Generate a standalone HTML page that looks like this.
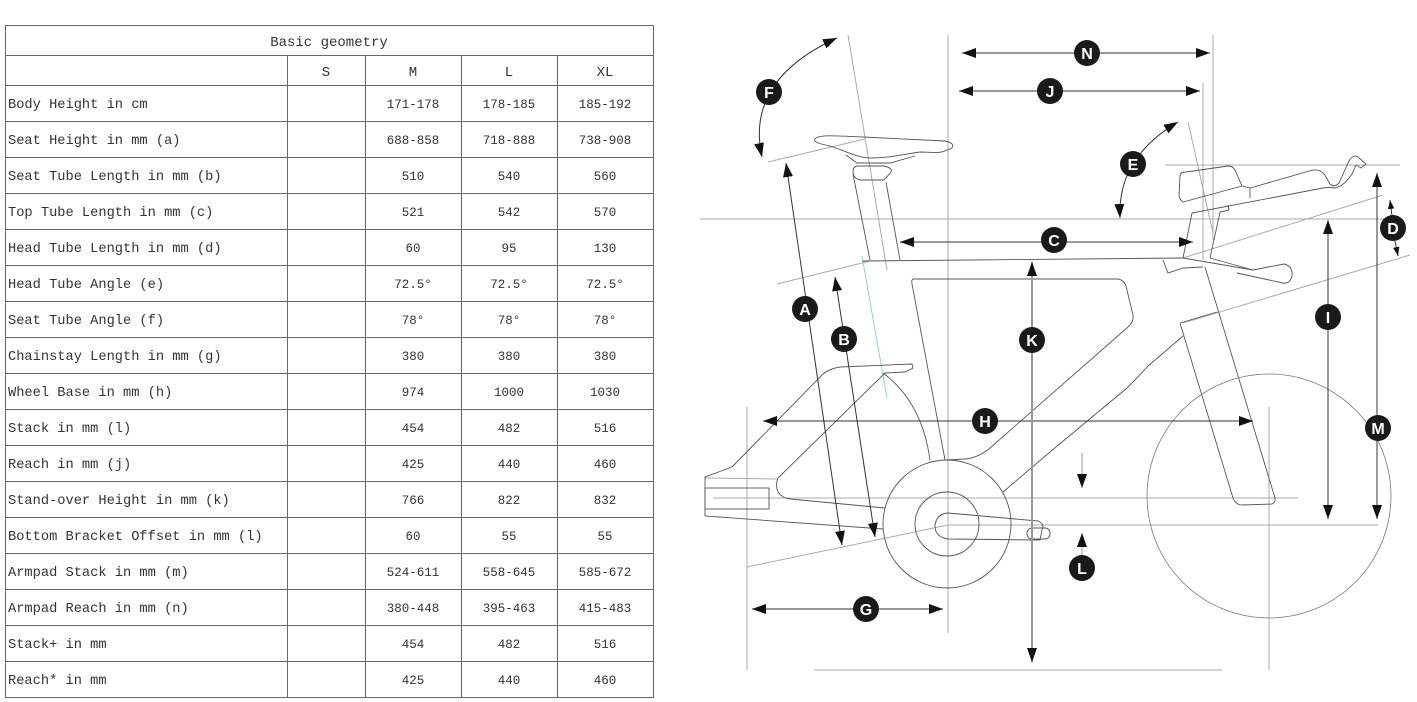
<!DOCTYPE html>
<html><head><meta charset="utf-8"><style>
html,body{margin:0;padding:0;background:#fff;}
svg{display:block;}
.tl{font-family:"Liberation Mono",monospace;font-size:13.7px;fill:#333;}
.tn{font-family:"Liberation Mono",monospace;font-size:12.5px;fill:#333;text-anchor:middle;}
.th{font-family:"Liberation Mono",monospace;font-size:14px;fill:#333;text-anchor:middle;}
.ref{stroke:#aaa;stroke-width:1;fill:none;}
.out{stroke:#555;stroke-width:0.9;fill:none;}
.arr{stroke:#333;stroke-width:1;fill:none;}
.bt{font-family:"Liberation Sans",sans-serif;font-weight:bold;font-size:16px;fill:#fff;text-anchor:middle;}
</style></head><body>
<svg width="1417" height="702" viewBox="0 0 1417 702" xmlns="http://www.w3.org/2000/svg">
<defs>
<marker id="ah" viewBox="0 0 14 10" refX="14" refY="5" markerWidth="14" markerHeight="10" markerUnits="userSpaceOnUse" orient="auto-start-reverse"><path d="M0,0 L14,5 L0,10 z" fill="#111"/></marker>
<marker id="as" viewBox="0 0 14 10" refX="14" refY="5" markerWidth="9" markerHeight="7" markerUnits="userSpaceOnUse" orient="auto-start-reverse"><path d="M0,0 L14,5 L0,10 z" fill="#111"/></marker>
</defs>
<rect width="1417" height="702" fill="#fff"/>

<!-- TABLE -->
<g stroke="#666" stroke-width="1" fill="none" shape-rendering="crispEdges">
<rect x="5.5" y="25.5" width="648" height="672"/>
<line x1="5" y1="55.5" x2="653" y2="55.5"/>
<line x1="5" y1="85.5" x2="653" y2="85.5"/>
<line x1="5" y1="121.5" x2="653" y2="121.5"/>
<line x1="5" y1="157.5" x2="653" y2="157.5"/>
<line x1="5" y1="193.5" x2="653" y2="193.5"/>
<line x1="5" y1="229.5" x2="653" y2="229.5"/>
<line x1="5" y1="265.5" x2="653" y2="265.5"/>
<line x1="5" y1="301.5" x2="653" y2="301.5"/>
<line x1="5" y1="337.5" x2="653" y2="337.5"/>
<line x1="5" y1="373.5" x2="653" y2="373.5"/>
<line x1="5" y1="409.5" x2="653" y2="409.5"/>
<line x1="5" y1="445.5" x2="653" y2="445.5"/>
<line x1="5" y1="481.5" x2="653" y2="481.5"/>
<line x1="5" y1="517.5" x2="653" y2="517.5"/>
<line x1="5" y1="553.5" x2="653" y2="553.5"/>
<line x1="5" y1="589.5" x2="653" y2="589.5"/>
<line x1="5" y1="625.5" x2="653" y2="625.5"/>
<line x1="5" y1="661.5" x2="653" y2="661.5"/>
<line x1="287.5" y1="55" x2="287.5" y2="697"/>
<line x1="365.5" y1="55" x2="365.5" y2="697"/>
<line x1="461.5" y1="55" x2="461.5" y2="697"/>
<line x1="557.5" y1="55" x2="557.5" y2="697"/>
</g>
<text class="th" x="329" y="46">Basic geometry</text>
<text class="th" x="326" y="76">S</text>
<text class="th" x="413" y="76">M</text>
<text class="th" x="509" y="76">L</text>
<text class="th" x="605" y="76">XL</text>

<g>
<text class="tl" x="8" y="108">Body Height in cm</text>
<text class="tn" x="413" y="108">171-178</text><text class="tn" x="509" y="108">178-185</text><text class="tn" x="605" y="108">185-192</text>
<text class="tl" x="8" y="144">Seat Height in mm (a)</text>
<text class="tn" x="413" y="144">688-858</text><text class="tn" x="509" y="144">718-888</text><text class="tn" x="605" y="144">738-908</text>
<text class="tl" x="8" y="180">Seat Tube Length in mm (b)</text>
<text class="tn" x="413" y="180">510</text><text class="tn" x="509" y="180">540</text><text class="tn" x="605" y="180">560</text>
<text class="tl" x="8" y="216">Top Tube Length in mm (c)</text>
<text class="tn" x="413" y="216">521</text><text class="tn" x="509" y="216">542</text><text class="tn" x="605" y="216">570</text>
<text class="tl" x="8" y="252">Head Tube Length in mm (d)</text>
<text class="tn" x="413" y="252">60</text><text class="tn" x="509" y="252">95</text><text class="tn" x="605" y="252">130</text>
<text class="tl" x="8" y="288">Head Tube Angle (e)</text>
<text class="tn" x="413" y="288">72.5°</text><text class="tn" x="509" y="288">72.5°</text><text class="tn" x="605" y="288">72.5°</text>
<text class="tl" x="8" y="324">Seat Tube Angle (f)</text>
<text class="tn" x="413" y="324">78°</text><text class="tn" x="509" y="324">78°</text><text class="tn" x="605" y="324">78°</text>
<text class="tl" x="8" y="360">Chainstay Length in mm (g)</text>
<text class="tn" x="413" y="360">380</text><text class="tn" x="509" y="360">380</text><text class="tn" x="605" y="360">380</text>
<text class="tl" x="8" y="396">Wheel Base in mm (h)</text>
<text class="tn" x="413" y="396">974</text><text class="tn" x="509" y="396">1000</text><text class="tn" x="605" y="396">1030</text>
<text class="tl" x="8" y="432">Stack in mm (l)</text>
<text class="tn" x="413" y="432">454</text><text class="tn" x="509" y="432">482</text><text class="tn" x="605" y="432">516</text>
<text class="tl" x="8" y="468">Reach in mm (j)</text>
<text class="tn" x="413" y="468">425</text><text class="tn" x="509" y="468">440</text><text class="tn" x="605" y="468">460</text>
<text class="tl" x="8" y="504">Stand-over Height in mm (k)</text>
<text class="tn" x="413" y="504">766</text><text class="tn" x="509" y="504">822</text><text class="tn" x="605" y="504">832</text>
<text class="tl" x="8" y="540">Bottom Bracket Offset in mm (l)</text>
<text class="tn" x="413" y="540">60</text><text class="tn" x="509" y="540">55</text><text class="tn" x="605" y="540">55</text>
<text class="tl" x="8" y="576">Armpad Stack in mm (m)</text>
<text class="tn" x="413" y="576">524-611</text><text class="tn" x="509" y="576">558-645</text><text class="tn" x="605" y="576">585-672</text>
<text class="tl" x="8" y="612">Armpad Reach in mm (n)</text>
<text class="tn" x="413" y="612">380-448</text><text class="tn" x="509" y="612">395-463</text><text class="tn" x="605" y="612">415-483</text>
<text class="tl" x="8" y="648">Stack+ in mm</text>
<text class="tn" x="413" y="648">454</text><text class="tn" x="509" y="648">482</text><text class="tn" x="605" y="648">516</text>
<text class="tl" x="8" y="684">Reach* in mm</text>
<text class="tn" x="413" y="684">425</text><text class="tn" x="509" y="684">440</text><text class="tn" x="605" y="684">460</text>
</g>

<!-- DIAGRAM reference lines -->
<g class="ref">
<line x1="948" y1="35" x2="948" y2="633"/>
<line x1="848" y1="35" x2="887" y2="270"/>
<line x1="1213" y1="35" x2="1213" y2="240"/>
<line x1="1203" y1="83" x2="1203" y2="260"/>
<line x1="1188" y1="122" x2="1213" y2="233"/>
<line x1="700" y1="219" x2="1390" y2="219"/>
<line x1="1165" y1="165" x2="1400" y2="165"/>
<line x1="768" y1="162" x2="865" y2="139"/>
<line x1="777" y1="284" x2="870" y2="261"/>
<line x1="1183" y1="258" x2="1383" y2="195"/>
<line x1="1183" y1="323" x2="1410" y2="255"/>
<line x1="713" y1="498" x2="1298" y2="498"/>
<line x1="948" y1="525" x2="1378" y2="525"/>
<line x1="747" y1="407" x2="747" y2="670"/>
<line x1="1269" y1="407" x2="1269" y2="670"/>
<line x1="814" y1="670" x2="1222" y2="670"/>
<line x1="747" y1="567" x2="948" y2="525"/>
<line x1="705" y1="478" x2="777" y2="479"/>
</g>
<line x1="862" y1="256" x2="887" y2="398" stroke="#8fd3d8" stroke-width="1"/>

<!-- Frame outlines -->
<g class="out">
<path d="M815,139 C818,134 840,136 863,137 L945,141 C955,143 955,148 947,150 C940,154 932,152 920,152 C905,154 890,158 870,158 C855,157 843,150 830,146 C820,144 813,142 815,139 Z"/>
<path d="M846,155 L857,163 L890,163 L915,156"/>
<path d="M858,166 L884,166 Q893,168 891,172 L884,180 L860,180 Q853,178 853,172 Q853,166 858,166 Z"/>
<line x1="853" y1="174" x2="870" y2="260"/>
<line x1="886" y1="182" x2="900" y2="260"/>
<line x1="862" y1="261" x2="1183" y2="258"/>
<path d="M914,279 L1118,279 Q1124,280 1126,286 L1133,315 Q1134,322 1128,327 L990,448 Q978,458 965,459 L945,460 L912,284 Q911,279 914,279 Z"/>
<path d="M1003,492 L1050,452 L1127,388 Q1140,375 1147,367 L1183,336"/>
<path d="M883,373 Q922,402 930,460"/>
<path d="M732,467 L822,375 Q828,369 840,367 L912,364 L913,368 L905,372 L885,373 L778,478 Q775,485 778,492 Q782,498 790,499 L885,508"/>
<path d="M732,467 L705,477 L705,516 L883,529"/>
<rect x="705" y="488" width="64" height="21"/>
<circle cx="947" cy="524" r="64"/>
<circle cx="947" cy="524" r="32"/>
<path d="M948,513 L1038,521 Q1045,524 1042,530 L1040,540 L948,539 Q935,537 935,526 Q936,514 948,513 Z"/>
<rect x="1027" y="528" width="23" height="11" rx="5"/>
<path d="M1180,323 L1217,312"/>
<path d="M1180,323 L1233,498 Q1236,505 1242,505 L1272,504 Q1276,502 1275,498 L1205,267"/>
<circle cx="1269" cy="496" r="122" stroke="#777" stroke-width="0.8"/>
<path d="M1192,213 L1183,258"/>
<path d="M1228,205 L1229,210 L1220,212 L1210,258"/>
<path d="M1163,260 L1168,273 L1183,268 L1203,267"/>
<path d="M1183,258 L1253,270 L1284,264 Q1293,266 1292,276 Q1290,284 1283,283 L1237,273"/>
<path d="M1210,258 L1253,270"/>
<path d="M1180,176 Q1180,172 1186,172 L1228,166 Q1233,166 1235,170 L1242,186 L1183,202 Q1180,200 1179,196 Z"/>
<path d="M1242,186 L1250,188 L1250,198"/>
<path d="M1250,188 L1313,170 Q1322,169 1326,177 L1330,184 Q1334,188 1339,183 L1349,161 Q1353,154 1358,157 L1366,164 L1361,168 L1356,165 L1352,174 Q1344,186 1335,188 Q1328,187 1323,188 L1192,213"/>
</g>

<!-- Arrows -->
<g class="arr">
<line x1="962" y1="53" x2="1210" y2="53" marker-start="url(#ah)" marker-end="url(#ah)"/>
<line x1="959" y1="91" x2="1200" y2="91" marker-start="url(#ah)" marker-end="url(#ah)"/>
<line x1="900" y1="242" x2="1193" y2="242" marker-start="url(#ah)" marker-end="url(#ah)"/>
<line x1="763" y1="421" x2="1253" y2="421" marker-start="url(#ah)" marker-end="url(#ah)"/>
<line x1="752" y1="609" x2="943" y2="609" marker-start="url(#ah)" marker-end="url(#ah)"/>
<line x1="786" y1="163" x2="842" y2="545" marker-start="url(#ah)" marker-end="url(#ah)"/>
<line x1="835" y1="277" x2="875" y2="537" marker-start="url(#ah)" marker-end="url(#ah)"/>
<line x1="1328" y1="220" x2="1328" y2="519" marker-start="url(#ah)" marker-end="url(#ah)"/>
<line x1="1377" y1="173" x2="1377" y2="519" marker-start="url(#ah)" marker-end="url(#ah)"/>
<path d="M762,157 Q745,80 837,38" marker-start="url(#ah)" marker-end="url(#ah)"/>
<path d="M1120,218 Q1117,158 1178,122" marker-start="url(#ah)" marker-end="url(#ah)"/>
<line x1="1392" y1="216" x2="1390" y2="200" marker-end="url(#as)"/>
<line x1="1395" y1="241" x2="1398" y2="256" marker-end="url(#as)"/>
<line x1="1082" y1="453" x2="1082" y2="488" stroke="#999" marker-end="url(#ah)"/>
<line x1="1082" y1="555" x2="1082" y2="533" stroke="#999" marker-end="url(#ah)"/>
</g>
<line x1="1032" y1="262" x2="1032" y2="662" stroke="#999" stroke-width="2" marker-start="url(#ah)" marker-end="url(#ah)"/>

<!-- Badges -->
<g>
<circle cx="769" cy="92" r="13" fill="#1a1a1a"/><text class="bt" x="769" y="98">F</text>
<circle cx="1087" cy="53" r="13" fill="#1a1a1a"/><text class="bt" x="1087" y="59">N</text>
<circle cx="1050" cy="91" r="13" fill="#1a1a1a"/><text class="bt" x="1050" y="97">J</text>
<circle cx="1133" cy="164" r="13" fill="#1a1a1a"/><text class="bt" x="1133" y="170">E</text>
<circle cx="1054" cy="240" r="13" fill="#1a1a1a"/><text class="bt" x="1054" y="246">C</text>
<circle cx="1393" cy="228" r="13" fill="#1a1a1a"/><text class="bt" x="1393" y="234">D</text>
<circle cx="805" cy="309" r="13" fill="#1a1a1a"/><text class="bt" x="805" y="315">A</text>
<circle cx="844" cy="339" r="13" fill="#1a1a1a"/><text class="bt" x="844" y="345">B</text>
<circle cx="1032" cy="340" r="13" fill="#1a1a1a"/><text class="bt" x="1032" y="346">K</text>
<circle cx="1328" cy="317" r="13" fill="#1a1a1a"/><text class="bt" x="1328" y="323">I</text>
<circle cx="1378" cy="428" r="13" fill="#1a1a1a"/><text class="bt" x="1378" y="434">M</text>
<circle cx="985" cy="421" r="13" fill="#1a1a1a"/><text class="bt" x="985" y="427">H</text>
<circle cx="866" cy="609" r="13" fill="#1a1a1a"/><text class="bt" x="866" y="615">G</text>
<circle cx="1082" cy="568" r="13" fill="#1a1a1a"/><text class="bt" x="1082" y="574">L</text>
</g>
</svg>
</body></html>
